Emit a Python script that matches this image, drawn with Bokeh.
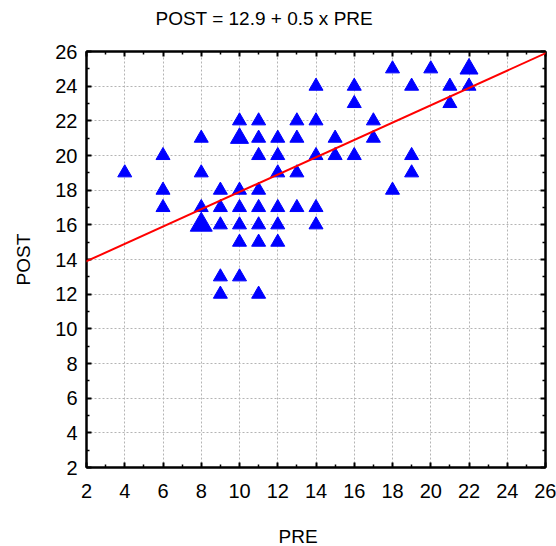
from bokeh.plotting import figure
from bokeh.models import LinearAxis, Slope, Range1d, FixedTicker, Title, ColumnDataSource
from bokeh.embed import file_html
from bokeh.resources import INLINE
from collections import Counter

pre = [4, 6, 6, 6, 8, 8, 8, 8, 8, 8,
       9, 9, 9, 9, 9,
       10, 10, 10, 10, 10, 10, 10, 10,
       11, 11, 11, 11, 11, 11, 11, 11,
       12, 12, 12, 12, 12, 12,
       13, 13, 13, 13,
       14, 14, 14, 14, 14,
       15, 15, 16, 16, 16, 17, 17, 18, 18,
       19, 19, 19, 20, 21, 21, 22, 22, 22]
post = [19, 20, 18, 17, 21, 19, 17, 16, 16, 16,
        18, 17, 16, 13, 12,
        22, 21, 21, 18, 17, 16, 15, 13,
        22, 21, 20, 18, 17, 16, 15, 12,
        21, 20, 19, 17, 16, 15,
        22, 21, 19, 17,
        24, 22, 20, 17, 16,
        21, 20, 24, 23, 20, 22, 21, 25, 18,
        24, 20, 19, 25, 24, 23, 25, 25, 24]
intercept = 12.9
slope = 0.5
title_text = "POST = 12.9 + 0.5 x PRE"
x_label = "PRE"
y_label = "POST"
ticks = [2, 4, 6, 8, 10, 12, 14, 16, 18, 20, 22, 24, 26]

counts = Counter(zip(pre, post))
xs = [k[0] for k in counts]
ys = [k[1] for k in counts]
sizes = [14 + 4 * (n - 1) for n in counts.values()]
src = ColumnDataSource(dict(x=xs, y=ys, s=sizes))

FONT = "Liberation Sans"
FS = "19px"
TFS = "20px"

p = figure(width=556, height=546, output_backend="svg", toolbar_location=None,
           x_range=Range1d(2, 26), y_range=Range1d(2, 26),
           min_border_left=86, min_border_right=11, min_border_top=51, min_border_bottom=79,
           y_axis_label=y_label)
p.title = Title(text=title_text, align="left", offset=69, text_font=FONT,
                text_font_size=FS, text_font_style="normal", text_color="#000000",
                standoff=0)
p.background_fill_color = "white"
p.border_fill_color = "white"
p.outline_line_color = "black"
p.outline_line_width = 2

for g in (p.xgrid, p.ygrid):
    g.ticker = FixedTicker(ticks=ticks)
    g.grid_line_color = "#b4b4b4"
    g.grid_line_dash = "2 2"
    g.grid_line_width = 1

def style(ax, labels=True):
    ax.ticker = FixedTicker(ticks=ticks, minor_ticks=[t + 1 for t in ticks[:-1]])
    ax.axis_line_color = "black"
    ax.axis_line_width = 2
    ax.major_tick_in = 5
    ax.major_tick_out = 0
    ax.minor_tick_in = 3
    ax.minor_tick_out = 0
    ax.major_tick_line_width = 2
    ax.minor_tick_line_width = 1.5
    ax.major_tick_line_color = "black"
    ax.minor_tick_line_color = "black"
    ax.major_label_text_font = FONT
    ax.major_label_text_font_size = TFS
    ax.major_label_text_color = "black"
    if not labels:
        ax.major_label_overrides = {t: "" for t in ticks}
    ax.axis_label_text_font = FONT
    ax.axis_label_text_font_size = FS
    ax.axis_label_text_font_style = "normal"
    ax.axis_label_text_color = "black"

style(p.xaxis[0])
style(p.yaxis[0])
p.xaxis[0].major_label_standoff = 16
p.yaxis[0].major_label_standoff = 9
p.yaxis[0].axis_label_standoff = 18

top = LinearAxis()
right = LinearAxis()
style(top, labels=False)
style(right, labels=False)
p.add_layout(top, "above")
p.add_layout(right, "right")

def spacer(h):
    return LinearAxis(ticker=FixedTicker(ticks=ticks), major_tick_out=h, major_tick_in=0,
                      minor_tick_out=0, minor_tick_in=0,
                      major_tick_line_color=None, minor_tick_line_color=None,
                      axis_line_color=None,
                      major_label_overrides={t: "" for t in ticks})

# invisible spacers between the frame and the title / x label
p.add_layout(spacer(23), "above")
p.add_layout(spacer(23), "below")

p.add_layout(Title(text=x_label, align="left", offset=192, text_font=FONT,
                   text_font_size=FS, text_font_style="normal", text_color="black",
                   standoff=0), "below")

p.scatter("x", "y", source=src, marker="triangle", size="s",
          fill_color="#0000ff", line_color="#0000ff", line_width=1)

p.add_layout(Slope(gradient=slope, y_intercept=intercept, line_color="#ff0000", line_width=2))

open("out.html", "w").write(file_html(p, INLINE))
